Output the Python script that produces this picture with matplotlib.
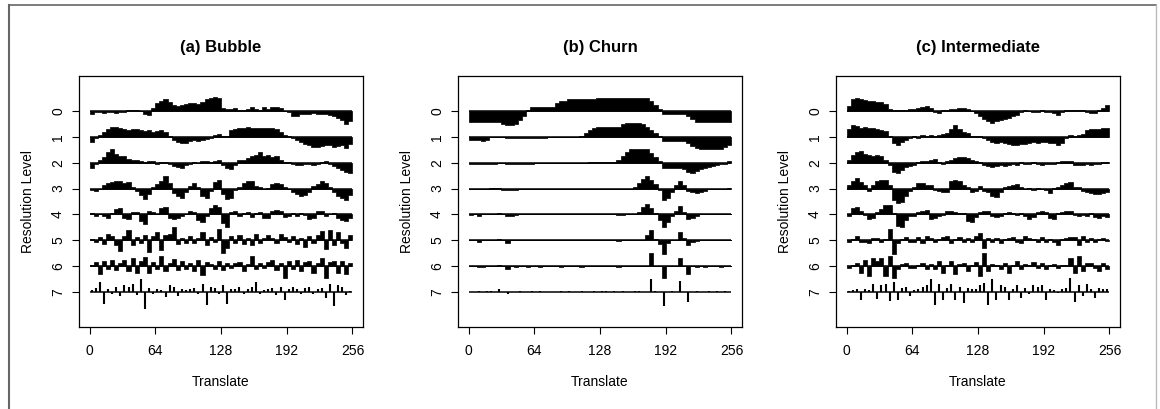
import numpy as np
import matplotlib.pyplot as plt
from matplotlib.lines import Line2D

plt.rcParams['font.family'] = ['Liberation Sans', 'DejaVu Sans']

# Stationary wavelet coefficients, read off the picture as 64 samples per level
# (each sample spans 4 translate units). Values are in hundredths of the level spacing,
# positive = drawn upward.
translate = np.arange(0, 256, 4)
level_names = ['0', '1', '2', '3', '4', '5', '6', '7']
x_ticks = [0, 64, 128, 192, 256]
titles = ['(a) Bubble', '(b) Churn', '(c) Intermediate']

bubble_l0 = [-13, -5, -4, -6, -3, -5, -8, -4, -4, 3, 5, 6, 2, -10, -14, 12,
             32, 41, 45, 36, 23, 19, 23, 28, 30, 32, 28, 35, 45, 52, 55, 50,
             12, 10, 8, 12, 6, 4, 8, 15, 10, 3, 15, 8, 15, 16, 14, 2,
             -5, -18, -20, -12, -10, -12, -8, -12, -12, -10, -15, -18, -25, -35, -50, -40]
bubble_l1 = [-18, -5, 6, 20, 32, 38, 40, 35, 30, 28, 32, 30, 25, 22, 26, 20,
             22, 25, 18, 5, -10, -20, -25, -22, -15, -12, -14, -10, -8, -5, 8, 12,
             5, 2, 25, 32, 36, 35, 38, 36, 35, 34, 36, 33, 35, 30, 20, 8,
             2, -3, -10, -20, -28, -32, -38, -40, -35, -30, -32, -40, -36, -30, -42, -28]
bubble_l2 = [-20, -5, 10, 22, 40, 52, 35, 28, 25, 15, 10, 12, 5, 2, 8, 5,
             -5, 4, 3, -5, -12, -18, -22, -10, -4, 3, -2, 5, 8, 3, 8, 10,
             -10, -22, -25, -8, 10, 12, 20, 25, 32, 40, 28, 32, 22, 25, 12, 4,
             3, -5, -8, -10, -6, -4, -10, -5, 2, 5, -5, -12, -20, -28, -35, -40]
bubble_l3 = [-5, -8, -3, 15, 22, 25, 30, 28, 22, 26, 5, -10, -25, -40, -20, 6,
             18, 30, 48, 20, -18, -28, -38, -12, 10, 20, 5, -30, -38, -10, 25, 35,
             -20, -42, -35, -5, 5, 20, 30, 28, 10, 5, -3, 3, 18, 22, 18, 8,
             -3, -12, -20, -28, -25, -15, 10, 18, 28, 20, 5, -15, -30, -38, -45, -25]
bubble_l4 = [4, -5, 3, -8, -12, 5, 22, 25, -15, -18, 10, 8, -25, -38, 12, 8,
             3, 25, 28, -12, -18, -15, -5, 3, 12, 8, -20, -30, -5, 25, 38, 30,
             -35, -50, 8, 12, -8, 5, 8, -10, 5, 10, -12, -15, 15, 18, 12, -10,
             -8, 4, -5, 6, -3, -18, -12, 15, 12, -5, 3, 6, -12, -20, -25, -15]
bubble_l5 = [5, -8, 12, -15, 25, 18, -20, -40, 15, 38, -20, 12, -10, 20, -45, 15,
             30, -38, 20, 25, 50, -15, 10, -12, 15, -10, 8, 30, -20, 12, -8, 45,
             -48, -30, 15, -10, 20, -15, 10, -18, 25, -10, 8, 20, 10, -12, 25, 12,
             -8, 18, -15, 10, -25, 15, -10, 20, 35, -35, 38, -20, 30, -12, -30, 20]
bubble_l6 = [5, 15, -30, 20, -12, 25, -15, 10, 22, -20, 30, -25, 18, 35, -28, 15,
             -10, 38, -20, 12, 28, -15, 20, -12, 10, -18, 25, -35, 15, 8, -10, 20,
             -15, 12, -8, 10, 15, -20, 8, 40, -10, 12, -8, 15, 25, -15, 10, -45,
             18, -12, 25, -20, 15, 20, -28, 12, 30, -45, 15, 20, -25, 18, -30, 10]
bubble_l7 = [8, 15, 38, -45, 12, -10, 20, -15, 25, 18, 30, -12, 50, -65, 15, -10,
             12, 8, -20, 28, 20, -15, 10, 8, 12, 15, -10, 30, -50, 20, 15, -8,
             25, -45, 12, 10, 18, -8, 12, 20, 38, -10, 8, 12, 15, -12, 20, -30,
             10, 18, 12, -10, 15, 20, -8, 12, 15, -25, 30, -55, 25, 18, -12, 5]

churn_l0 = [-43, -43, -43, -43, -43, -43, -43, -43, -48, -52, -52, -50, -35, -18, 5, 17,
            17, 17, 17, 17, 17, 30, 41, 41, 47, 47, 47, 47, 47, 47, 47, 49,
            49, 49, 49, 49, 49, 49, 49, 49, 52, 52, 52, 52, 40, 25, 10, -13,
            -13, -13, -13, -13, -13, -20, -32, -42, -43, -43, -43, -43, -43, -43, -43, -43]
churn_l1 = [-13, -13, -13, -16, -13, 0, 0, 0, -2, -6, -6, -6, -6, -6, -6, -6,
            -6, -6, -6, 0, 0, 0, 0, 0, 0, 0, 0, 5, 15, 25, 33, 38,
            38, 38, 38, 38, 38, 52, 54, 54, 54, 54, 50, 40, 28, 15, 3, -17,
            -17, -17, -17, -17, -17, -25, -35, -42, -46, -46, -46, -46, -46, -46, -40, -32]
churn_l2 = [-5, -5, -5, -5, -5, -5, -5, 0, 0, -6, -6, -6, -6, -6, -6, -6,
            0, 0, 0, 0, 0, 0, 0, 0, 0, 0, 0, 0, 0, 4, 4, 4,
            4, 4, 4, 4, 12, 28, 42, 52, 52, 52, 52, 52, 38, 22, 6, -19,
            -19, -19, -19, -19, -25, -35, -39, -30, -25, -22, -18, -14, -10, -6, -3, 5]
churn_l3 = [0, 0, 0, 0, 0, 4, 4, 4, -5, -5, -5, -5, 0, 0, 0, 0,
            0, 0, 0, 0, 0, 0, 0, 0, 0, 0, 0, 0, 0, 0, 0, 0,
            0, 0, 0, 0, 0, 0, 0, 0, 8, 22, 38, 50, 35, 18, -5, -45,
            -35, -15, 15, 30, 15, -8, -15, -16, -12, -8, -3, 0, 0, 0, 0, 4]
churn_l4 = [-3, 0, -6, 0, 0, 0, 3, 4, 0, -8, -6, -3, 0, 0, 0, 0,
            0, 0, 0, 0, 0, 0, 0, 0, 0, 0, 0, 0, 0, 0, 0, 0,
            0, 0, 0, 0, -3, -3, 0, 0, 0, 8, 28, 42, 25, 5, -20, -48,
            -30, -8, 15, 32, 10, -18, -12, -5, 0, 0, 0, 0, 0, 0, 0, 0]
churn_l5 = [0, 0, -6, 0, 0, 0, 0, 5, 0, -10, 0, 0, 0, 0, 0, 0,
            0, 0, 0, 0, 0, 0, 0, 0, 0, 0, 0, 0, 0, 0, 0, 0,
            0, 0, 0, 0, -4, 0, 0, 0, 0, 0, 0, 20, 40, 5, -15, -52,
            -10, 0, 0, 30, 10, -19, -8, -3, 0, 0, 0, 0, 0, 0, 0, 0]
churn_l6 = [0, 0, -4, -3, 0, 0, 0, 6, 0, -10, 0, -4, 0, 0, -4, 0,
            0, -3, 0, 0, 0, 0, -4, 0, 0, 0, 0, -3, 0, 0, 0, 0,
            0, 0, 0, 0, -4, 0, 0, 0, 0, 0, 0, 0, 52, 0, 0, -45,
            0, 0, 0, 32, 0, -32, 0, -4, 0, -3, 0, 0, 0, -4, 0, 0]
churn_l7 = [0, 0, 4, 0, 4, 4, 0, 13, 0, -9, 0, 0, 4, 0, 0, 4,
            0, 4, 0, 0, 0, 0, 4, 0, 4, 0, 0, 4, 0, 0, 4, 0,
            4, 4, 0, 4, 0, 4, 0, 0, 4, 4, 0, 0, 49, 4, 0, -54,
            0, 4, 0, 43, 0, -41, 0, 4, 0, 0, 4, 0, 4, 0, 4, 0]

inter_l0 = [20, 45, 50, 48, 42, 40, 38, 35, 35, 28, 8, 4, 6, 3, 5, 8,
            10, 12, 15, 18, 12, -2, -6, 4, 6, 8, 10, 12, 14, 10, 2, -8,
            -20, -32, -40, -45, -38, -35, -30, -28, -20, -15, -5, 3, 2, -3, -2, 3,
            -3, -5, -8, -15, -5, 4, 6, 5, 5, 3, -5, -8, -6, 3, 12, 25]
inter_l1 = [30, 45, 42, 35, 38, 36, 35, 30, 28, 22, 5, -25, -30, -20, -12, -5,
            5, -3, 6, 4, 8, 3, 8, 10, 15, 32, 45, 32, 20, 15, 5, 4,
            2, -5, -12, -20, -22, -20, -25, -28, -30, -32, -28, -26, -24, -20, -22, -18,
            -20, -22, -25, -30, -22, -5, 6, 5, 6, 10, 25, 30, 32, 30, 34, 35]
inter_l2 = [12, 30, 40, 45, 35, 30, 28, 30, 28, 10, -8, -35, -40, -28, -18, -12,
            -8, 4, 6, 8, 12, 14, 2, -3, 6, 10, 20, 24, 22, 20, 12, 5,
            3, -8, -12, -15, -12, -10, -12, -8, -6, -8, 4, -3, -6, 3, -5, -8,
            -6, -4, -3, 2, 5, 8, 6, -8, -10, -8, -6, -8, -6, -3, 2, 4]
inter_l3 = [12, 30, 42, 25, 15, -10, 15, 28, 35, 32, 12, -45, -55, -52, -30, -8,
            5, 20, 22, 15, 14, -5, -8, -12, -12, 30, 32, 30, 15, 8, -12, -10,
            10, -8, -15, -28, -32, -12, 5, 10, 12, 18, 5, -3, 4, -4, 3, -3,
            -5, -18, 3, 8, 12, 22, 26, 8, 6, -10, -15, -18, -22, -20, -18, -15]
inter_l4 = [-6, 25, 30, 12, -3, -18, -15, 10, 22, 38, 35, 6, -45, -50, -20, -6,
            -5, 8, 14, 16, -18, -15, -6, -3, 12, 14, 10, 6, 5, -25, -30, -10,
            8, 12, 15, -8, -10, -6, 4, 8, 6, -3, 5, -8, -18, -10, 10, 12,
            8, -15, -18, 5, 8, 14, 12, -4, -6, -3, -8, 5, -10, -12, -8, -10]
inter_l5 = [-6, 5, 18, -8, -5, -12, 8, 10, -6, 4, 45, -52, -10, 6, 12, -8,
            -6, 13, -10, 15, 8, -8, 5, 12, 18, -12, 5, 12, -8, 10, -5, 18,
            28, -32, 8, -5, 10, -10, 5, 10, 12, -5, -12, 15, 8, 3, -6, 12,
            -6, 5, -8, -18, 4, 8, 12, 12, -18, 15, -8, 10, -6, 5, 8, -4]
inter_l6 = [-6, 5, 12, -25, 25, -38, 32, 20, 30, -38, 38, -45, -12, 8, 12, -6,
            -8, 5, 10, -12, 8, -12, 20, -25, 5, 18, -30, 8, 12, -18, 5, 15,
            -38, 50, -18, 8, 6, -10, 12, -25, 5, 18, -12, 8, 4, 15, -6, 10,
            -12, 6, 8, -8, 5, 6, 30, -25, 38, -20, 10, 12, -6, -18, 12, -12]
inter_l7 = [3, 8, 12, -32, 10, 8, 30, -28, 25, 32, -35, 38, -30, 15, 20, -15,
            8, 12, 18, 25, 48, -52, 30, -30, 15, 32, -32, 20, -42, 15, 10, 12,
            25, 35, -50, 48, -30, 25, 20, -30, 12, 28, -25, 15, -10, 25, 18, 25,
            -30, 12, 8, -6, 10, 15, 55, -38, 25, -15, 30, 12, -25, 15, 10, 12]

bubble = [bubble_l0, bubble_l1, bubble_l2, bubble_l3, bubble_l4, bubble_l5, bubble_l6, bubble_l7]
churn = [churn_l0, churn_l1, churn_l2, churn_l3, churn_l4, churn_l5, churn_l6, churn_l7]
inter = [inter_l0, inter_l1, inter_l2, inter_l3, inter_l4, inter_l5, inter_l6, inter_l7]

W, H = 1160, 409
fig = plt.figure(figsize=(W / 100, H / 100), dpi=100)

box_left = [79, 458, 836]
box_w, box_top, box_bot = 284, 76, 327


def draw_level(ax, j, vals, spike_lw=None):
    v = np.asarray(vals, dtype=float) / 100.0
    if spike_lw:
        # finest level: a comb of vertical spikes
        ax.vlines(translate + 2, j, j - v, color='black', lw=spike_lw)
    else:
        xe = np.append(translate, 256)
        ye = j - np.append(v, v[-1])
        ax.fill_between(xe, j, ye, step='post', facecolor='black',
                        edgecolor='black', lw=0.5)
    ax.hlines(j, 0, 256, color='black', lw=1.1)


for k, data in enumerate([bubble, churn, inter]):
    left = box_left[k]
    ax = fig.add_axes([left / W, 1 - box_bot / H, box_w / W, (box_bot - box_top) / H])
    for j, vals in enumerate(data):
        draw_level(ax, j, vals, spike_lw=1.5 if j == 7 else None)
    ax.set_xlim(-10.24, 266.24)
    ax.set_ylim(8.36, -1.36)
    ax.set_xticks(x_ticks)
    ax.set_xticklabels([str(t) for t in x_ticks])
    ax.set_yticks(range(8))
    ax.set_yticklabels(level_names, rotation=90, va='center')
    ax.tick_params(length=5, width=0.8, labelsize=10, colors='black')
    ax.tick_params(axis='x', pad=7)
    ax.tick_params(axis='y', pad=5)
    for s in ax.spines.values():
        s.set_linewidth(0.9)

    cx = (left + box_w / 2) / W
    fig.text(cx, 1 - 47.5 / H, titles[k], ha='center', va='center',
             fontsize=12, fontweight='bold')
    fig.text(cx, 1 - 381.7 / H, 'Translate', ha='center', va='center', fontsize=10)
    fig.text((left - 51) / W, 1 - 201.5 / H, 'Resolution Level', ha='center',
             va='center', rotation=90, fontsize=10)

# outer frame of the figure
fig.add_artist(Line2D([9 / W, 9 / W], [0, 1 - 5 / H], transform=fig.transFigure,
                      color='#666666', lw=1.5))
fig.add_artist(Line2D([9 / W, 1156 / W], [1 - 5 / H, 1 - 5 / H], transform=fig.transFigure,
                      color='#666666', lw=1.2))
fig.add_artist(Line2D([1156 / W, 1156 / W], [0, 1 - 5 / H], transform=fig.transFigure,
                      color='#bbbbbb', lw=1.0))

fig.savefig('out.png', dpi=100)
